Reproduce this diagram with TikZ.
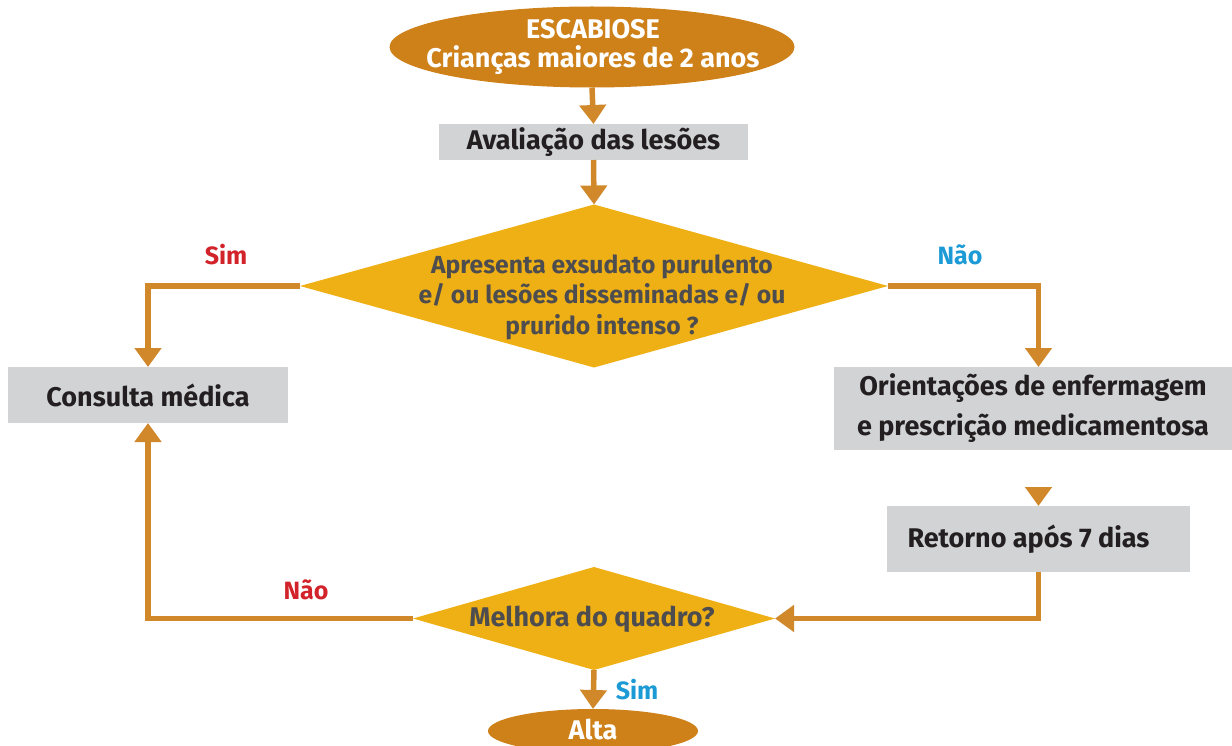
\documentclass[tikz,border=0pt]{standalone}
\usepackage{fontspec}
\setmainfont{Fira Sans}
\usetikzlibrary{shapes.geometric,arrows.meta,calc}
\definecolor{ocre}{RGB}{206,128,25}
\definecolor{linec}{RGB}{208,136,42}
\definecolor{gold}{RGB}{239,176,22}
\definecolor{boxg}{RGB}{209,211,212}
\definecolor{dtext}{RGB}{77,77,79}
\definecolor{btext}{RGB}{35,31,32}
\definecolor{redl}{RGB}{210,35,42}
\definecolor{bluel}{RGB}{27,154,214}
\tikzset{
  ovalbox/.style={ellipse, fill=ocre, inner sep=0pt, outer sep=0pt},
  ovaltext/.style={text=white, font=\fontsize{27}{29}\selectfont\bfseries, align=center, inner sep=0pt},
  greybox/.style={rectangle, fill=boxg, inner sep=0pt, outer sep=0pt, text=btext, font=\fontsize{27}{40}\selectfont\bfseries, align=center},
  decision/.style={diamond, fill=gold, inner sep=0pt, outer sep=0pt},
  dlabel/.style={text=dtext, font=\fontsize{24.7}{30.5}\selectfont\bfseries, align=center},
  flow/.style={draw=linec, line width=5.5pt},
  arr/.style={flow, -{Triangle[width=26pt,length=19pt]}},
  yes/.style={font=\fontsize{25}{28}\selectfont\bfseries},
}
\begin{document}
\begin{tikzpicture}[x=1pt,y=-1pt]
\useasboundingbox (0,0) rectangle (1232,746);
\node[ovalbox, minimum width=405, minimum height=81] (top) at (592,47) {};
\node[ovaltext] (toptext) at (593,47) {ESCABIOSE\\Crianças maiores de 2 anos};
\node[greybox, minimum width=309, minimum height=36] (av) at (593.5,142) {Avaliação das lesões};
\node[decision, minimum width=588, minimum height=163] (d1) at (594,286) {};
\node[dlabel] (d1t) at (602,297) {Apresenta exsudato purulento\\e/ ou lesões disseminadas e/ ou\\prurido intenso ?};
\node[greybox, minimum width=280, minimum height=56] (cons) at (148,395) {Consulta médica};
\node[greybox, minimum width=398, minimum height=83] (ori) at (1033,408.5) {Orientações de enfermagem\\e prescrição medicamentosa};
\node[greybox, minimum width=303, minimum height=66] (ret) at (1038.5,539) {\hspace*{-20pt}Retorno após 7 dias};
\node[decision, minimum width=362, minimum height=103] (d2) at (594,618.5) {};
\node[dlabel, font=\fontsize{27}{30}\selectfont\bfseries] (d2t) at (592,619) {Melhora do quadro?};
\node[ovalbox, minimum width=210, minimum height=44] (alta) at (593,731) {};
\node[ovaltext] (altatext) at (593,729) {Alta};
\node[yes, text=redl] (l1) at (226,255) {Sim};
\node[yes, text=bluel] (l2) at (960,255) {Não};
\node[yes, text=redl] (l3) at (306,590) {Não};
\node[yes, text=bluel] (l4) at (637,690) {Sim};
\coordinate (rettip) at ($(ret.north)+(0,-19)$);
\draw[arr] (top.south) -- (av.north);
\draw[arr] (av.south) -- (d1.north);
\draw[arr] (d1.west) -| (cons.north);
\draw[arr] (d1.east) -| (ori.north -| ret.north);
\draw[arr] (rettip) -- (ret.north);
\draw[arr] (ret.south) |- (d2.east);
\draw[arr] (d2.west) -| (cons.south);
\draw[arr] (d2.south) -- (alta.north);
\end{tikzpicture}
\end{document}
